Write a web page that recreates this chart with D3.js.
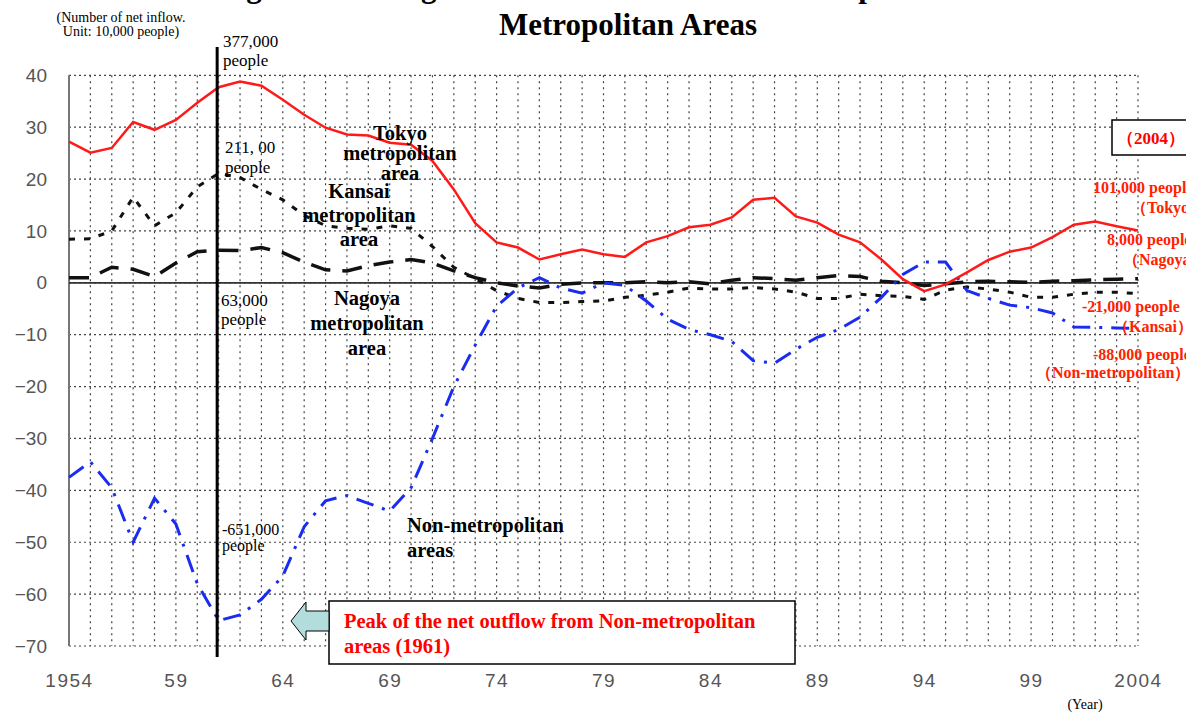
<!DOCTYPE html>
<html><head><meta charset="utf-8">
<script src="https://cdn.jsdelivr.net/npm/d3@7"></script>
<style>body{margin:0;background:#fff;overflow:hidden}svg{display:block}</style>
</head><body><svg id="c" width="1186" height="713"></svg>
<script>
const years = d3.range(1954, 2005);
const tokyo = [27.2,25.1,26,31,29.5,31.4,34.7,37.7,38.8,38,35.3,32.4,29.9,28.6,28.4,27,26.6,23.5,18,11.5,7.8,6.8,4.5,5.5,6.4,5.5,5.0,7.8,9.0,10.7,11.2,12.6,16.0,16.4,12.8,11.6,9.3,7.8,4.5,0.7,-1.6,-0.3,2.0,4.4,6.0,6.8,8.8,11.2,11.8,10.9,10.1];
const kansai = [8.4,8.5,10,16.5,11,13.5,18.5,21.1,20.3,18,16,13,11,10.5,10.3,11,10.5,7,3,0.8,-1.5,-3,-3.8,-3.8,-3.6,-3.5,-2.8,-2.4,-1.8,-1,-1.2,-1.2,-0.9,-1.2,-1.8,-3,-3,-2.2,-2.5,-2.6,-3.2,-1.4,-0.8,-1.2,-1.8,-2.8,-2.8,-2.2,-1.8,-1.8,-2.1];
const nagoya = [1,1,3,2.6,1.2,3.8,6,6.3,6.2,6.8,5.8,4,2.5,2.3,3.3,4,4.5,3.8,2.3,1,0,-0.6,-1,-0.3,0,0,0,0.2,0,0.2,-0.2,0.5,1,0.8,0.5,1,1.4,1.2,0.3,0,-0.5,-0.2,0.2,0.3,0.2,0.1,0.3,0.4,0.6,0.7,0.8];
const nonMetro = [-37.5,-34.5,-39.5,-50,-41.5,-46.5,-58,-65.1,-64,-61,-56.5,-47,-42,-41,-42.5,-44,-39.5,-30,-20,-12,-4.5,-1,1,-1,-2,0,-0.5,-3.5,-7,-9,-10,-11.3,-15,-15.5,-12.8,-10.5,-9,-6.6,-2.8,1.6,4,4,-1.5,-3,-4.3,-4.8,-5.8,-8.5,-8.6,-8.7,-8.8];
const yTicks = [40,30,20,10,0,-10,-20,-30,-40,-50,-60,-70];
const xTicks = [1954,1959,1964,1969,1974,1979,1984,1989,1994,1999,2004];
const xTickLabels = ["1954","59","64","69","74","79","84","89","94","99","2004"];

const svg = d3.select("#c");
const x = d3.scaleLinear().domain([1954, 2004]).range([69, 1138]);
const y = d3.scaleLinear().domain([-70, 40]).range([646, 75.3]);
const serif = "'Liberation Serif','Times New Roman',serif";
const sans = "'Liberation Sans',Arial,sans-serif";

// title
svg.append("text").attr("x", 628).attr("y", -3).attr("text-anchor","middle")
  .attr("font-family", serif).attr("font-weight","bold").attr("font-size", 31)
  .text("Changes in Net Migration between the Three Metropolitan and Non-");
svg.append("text").attr("x", 628).attr("y", 35).attr("text-anchor","middle")
  .attr("font-family", serif).attr("font-weight","bold").attr("font-size", 31)
  .text("Metropolitan Areas");
svg.append("text").attr("x", 121).attr("y", 22).attr("text-anchor","middle")
  .attr("font-family", serif).attr("font-size", 14).text("(Number of net inflow.");
svg.append("text").attr("x", 121).attr("y", 36).attr("text-anchor","middle")
  .attr("font-family", serif).attr("font-size", 14).text("Unit: 10,000 people)");

// grid
const g = svg.append("g");
g.selectAll("line.v").data(years.slice(1)).join("line")
  .attr("x1", d => x(d)).attr("x2", d => x(d)).attr("y1", y(40)).attr("y2", y(-70))
  .attr("stroke", "#444").attr("stroke-width", 1.2).attr("stroke-dasharray", "2,4");
g.selectAll("line.h").data(yTicks).join("line")
  .attr("x1", x(1954)).attr("x2", x(2004)).attr("y1", d => y(d)).attr("y2", d => y(d))
  .attr("stroke", "#444").attr("stroke-width", 1.2).attr("stroke-dasharray", "2,3");
g.append("line").attr("x1", x(1954)).attr("x2", x(1954)).attr("y1", y(40)).attr("y2", y(-70))
  .attr("stroke", "#777").attr("stroke-width", 2);
g.append("line").attr("x1", x(1954)).attr("x2", x(2004)).attr("y1", y(0)).attr("y2", y(0))
  .attr("stroke", "#333").attr("stroke-width", 1.6);

// axes labels
const ya = svg.append("g").attr("transform", `translate(${x(1954)},0)`)
  .call(d3.axisLeft(y).tickValues(yTicks).tickSize(0).tickPadding(22)
    .tickFormat(d => d < 0 ? "\u2212" + Math.abs(d) : d));
ya.select(".domain").remove();
ya.selectAll("text").attr("font-family", sans).attr("font-size", 19).attr("fill", "#555");
const xa = svg.append("g").attr("transform", `translate(0,${y(-70)})`)
  .call(d3.axisBottom(x).tickValues(xTicks).tickSize(0).tickPadding(28)
    .tickFormat((d, i) => xTickLabels[i]));
xa.select(".domain").remove();
xa.selectAll("text").attr("font-family", sans).attr("font-size", 19).attr("fill", "#555")
  .attr("letter-spacing", 1.5);
svg.append("text").attr("x", 1085).attr("y", 709).attr("text-anchor","middle")
  .attr("font-family", serif).attr("font-size", 14).text("(Year)");

// lines
const line = d3.line().x((d, i) => x(years[i])).y(d => y(d));
svg.append("path").attr("d", line(kansai)).attr("fill","none").attr("stroke","#111")
  .attr("stroke-width", 3).attr("stroke-dasharray", "6,9");
svg.append("path").attr("d", line(nagoya)).attr("fill","none").attr("stroke","#111")
  .attr("stroke-width", 3.5).attr("stroke-dasharray", "20,12");
svg.append("path").attr("d", line(nonMetro)).attr("fill","none").attr("stroke","#1a2cf0")
  .attr("stroke-width", 3).attr("stroke-dasharray", "18,9,3,9");
svg.append("path").attr("d", line(tokyo)).attr("fill","none").attr("stroke","#ff1a1a")
  .attr("stroke-width", 2.5);

// 1961 vertical line
svg.append("line").attr("x1", x(1961)-1.5).attr("x2", x(1961)-1.5).attr("y1", 47).attr("y2", 657)
  .attr("stroke", "#000").attr("stroke-width", 3);

function multi(lines, xx, yy, dy, opts) {
  const t = svg.append("text").attr("font-family", serif).attr("font-size", opts.size)
    .attr("font-weight", opts.bold ? "bold" : "normal").attr("fill", opts.fill || "#000")
    .attr("text-anchor", opts.anchor || "start");
  lines.forEach((s, i) => t.append("tspan").attr("x", xx).attr("y", yy + i * dy).text(s));
}
multi(["377,000", "people"], 223, 47, 19, {size: 17});
multi(["211, 00", "people"], 225, 153, 20, {size: 17});
multi(["63,000", "people"], 221, 306, 19, {size: 17});
multi(["-651,000", "people"], 222, 535, 16, {size: 16});
multi(["Tokyo", "metropolitan", "area"], 400, 140, 20, {size: 20.5, bold: true, anchor: "middle"});
multi(["Kansai", "metropolitan", "area"], 359, 198, 24, {size: 20.5, bold: true, anchor: "middle"});
multi(["Nagoya", "metropolitan", "area"], 367, 305, 25, {size: 20.5, bold: true, anchor: "middle"});
multi(["Non-metropolitan", "areas"], 407, 532, 25, {size: 20.5, bold: true});

// callout
svg.append("rect").attr("x", 329).attr("y", 601).attr("width", 466).attr("height", 63)
  .attr("fill", "#fff").attr("stroke", "#000").attr("stroke-width", 1.5);
svg.append("path").attr("d", "M291,621 L306,602 L306,611 L329,611 L329,631 L306,631 L306,640 Z")
  .attr("fill", "#b3dcdc").attr("stroke", "#000").attr("stroke-width", 1);
multi(["Peak of the net outflow from Non-metropolitan", "areas (1961)"], 344, 628, 25,
  {size: 20.5, bold: true, fill: "#ff0000"});

// 2004 labels
svg.append("rect").attr("x", 1112).attr("y", 120).attr("width", 80).attr("height", 35)
  .attr("fill", "#fff").attr("stroke", "#000").attr("stroke-width", 1.5);
multi(["\uff082004\uff09"], 1117, 144, 0, {size: 17, bold: true, fill: "#ff0000"});
const rc = "#ff2200";
multi(["101,000 people"], 1093, 193, 0, {size: 16, bold: true, fill: rc});
multi(["\uff08Tokyo\uff09"], 1131, 213, 0, {size: 16, bold: true, fill: rc});
multi(["8,000 people"], 1107, 245, 0, {size: 16, bold: true, fill: rc});
multi(["\uff08Nagoya\uff09"], 1123, 265, 0, {size: 16, bold: true, fill: rc});
multi(["-21,000 people"], 1082, 312, 0, {size: 16, bold: true, fill: rc});
multi(["\uff08Kansai\uff09"], 1113, 332, 0, {size: 16, bold: true, fill: rc});
multi(["-88,000 people"], 1093, 360, 0, {size: 16, bold: true, fill: rc});
multi(["\uff08Non-metropolitan\uff09"], 1036, 378, 0, {size: 16, bold: true, fill: rc});
</script></body></html>
